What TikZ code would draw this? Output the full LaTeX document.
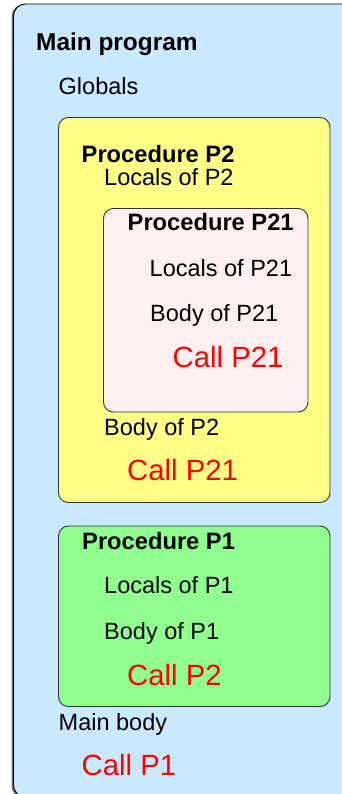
\documentclass[tikz,border=0pt]{standalone}
\usepackage{fontspec}
\setmainfont{Liberation Sans}
\usepackage{xcolor}
\usepackage{tikz}

\definecolor{mainblue}{RGB}{202,233,255}
\definecolor{procyellow}{RGB}{255,255,136}
\definecolor{procpink}{RGB}{255,240,240}
\definecolor{procgreen}{RGB}{144,255,144}

\begin{document}
\begin{tikzpicture}[x=1pt, y=-1pt,
    frame/.style={draw=black!80, line width=0.9pt, rounded corners=10pt},
    txt/.style={anchor=base west, inner sep=0pt, font=\fontsize{23.5}{28}\selectfont},
    head/.style={txt, font=\fontsize{23.7}{28}\selectfont\bfseries},
    call/.style={anchor=base west, inner sep=0pt, text=red, font=\fontsize{29.3}{34}\selectfont}]
    \useasboundingbox (0,0) rectangle (342,794);
    \clip (0,0) rectangle (342,794);

    % main program frame, runs off the right and bottom edge
    \fill[black!55, rounded corners=12pt] (11.5,4.5) rectangle (360,798);
    \draw[fill=mainblue, draw=black, line width=0.9pt, rounded corners=12pt] (13.5,4) rectangle (360,797);

    % procedure boxes
    \draw[frame, fill=procyellow] (58.5,117.5) rectangle (330,502.5);
    \draw[frame, fill=procpink] (103.5,208.5) rectangle (308,412);
    \draw[frame, fill=procgreen] (58.5,526) rectangle (330,706.5);

    % main program
    \node[head, font=\fontsize{24.4}{28}\selectfont\bfseries] (main) at (36,51) {Main program};
    \node[txt] (globals) at (58.5,95) {Globals};

    % procedure P2
    \node[head] (p2) at (81.5,163) {Procedure P2};
    \node[txt] (p2loc) at (104,186) {Locals of P2};

    % procedure P21 inside P2
    \node[head] (p21) at (127.5,230.5) {Procedure P21};
    \node[txt] (p21loc) at (149.5,276.5) {Locals of P21};
    \node[txt] (p21body) at (150,321.5) {Body of P21};
    \node[call] (p21call) at (172.5,367) {Call P21};

    \node[txt] (p2body) at (104,435) {Body of P2};
    \node[call] (p2call) at (127,480) {Call P21};

    % procedure P1
    \node[head] (p1) at (82,549) {Procedure P1};
    \node[txt] (p1loc) at (104,593.5) {Locals of P1};
    \node[txt] (p1body) at (104,639) {Body of P1};
    \node[call] (p1call) at (127,685) {Call P2};

    % main body
    \node[txt] (mainbody) at (58.5,730) {Main body};
    \node[call] (maincall) at (81.5,775) {Call P1};
\end{tikzpicture}
\end{document}
